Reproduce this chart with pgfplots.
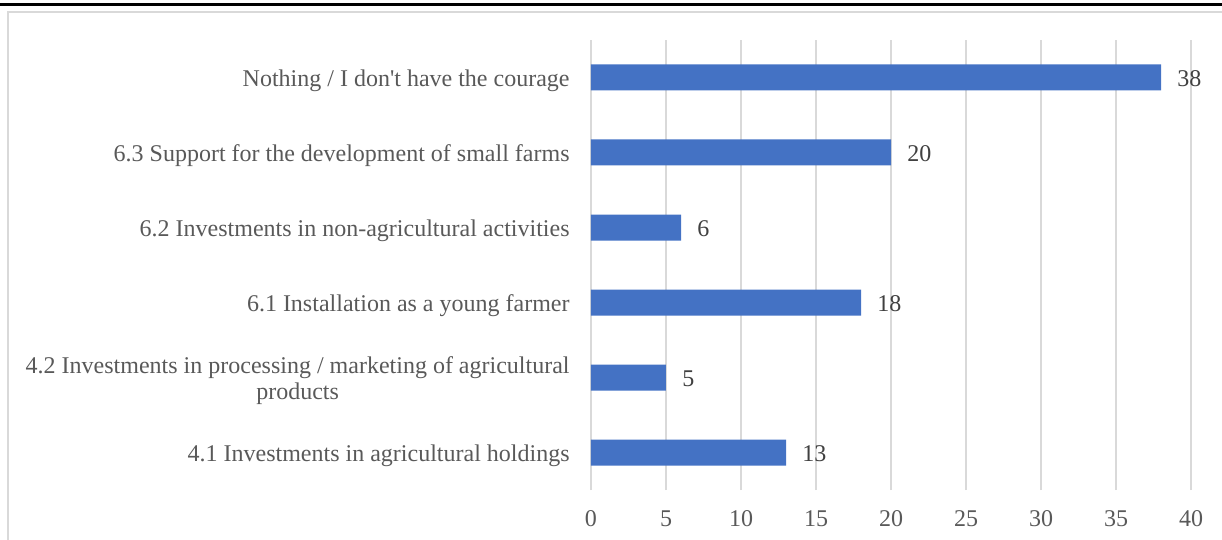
\documentclass[border=0pt]{standalone}
\usepackage{pgfplots}
\pgfplotsset{compat=1.18}
\usepackage{fontspec}
\setmainfont{Liberation Serif}
\definecolor{barblue}{HTML}{4472C4}
\definecolor{gridgray}{HTML}{D9D9D9}
\definecolor{labelgray}{HTML}{595959}
\definecolor{valgray}{HTML}{404040}
\begin{document}
\begin{tikzpicture}
\path[use as bounding box] (0,0) rectangle (611pt,-270pt);
\draw[black, line width=1.5pt] (0,-2.5pt) -- (611pt,-2.5pt);
\draw[gridgray, line width=0.7pt] (4pt,-271pt) -- (4pt,-6pt) -- (612pt,-6pt);
\begin{axis}[
  at={(295.5pt,-245pt)}, anchor=south west,
  xbar, width=300pt, height=225pt, scale only axis,
  xmin=0, xmax=40, ymin=-0.5, ymax=5.5,
  xtick={0,5,...,40}, ytick={0,1,2,3,4,5},
  yticklabels={{4.1 Investments in agricultural holdings},{4.2 Investments in processing / marketing of agricultural\\products},{6.1 Installation as a young farmer},{6.2 Investments in non-agricultural activities},{6.3 Support for the development of small farms},{Nothing / I don\textquotesingle t have the courage}},
  axis line style={draw=none},
  major tick length=0pt,
  xmajorgrids,
  grid style={color=gridgray, line width=0.75pt},
  bar width=13pt,
  xticklabel style={inner sep=0pt, yshift=-10pt, text=labelgray, font=\fontsize{12pt}{13.5pt}\selectfont},
  yticklabel style={inner sep=0pt, xshift=-10.5pt, yshift=-1.5pt, align=center, text=labelgray, font=\fontsize{12pt}{12.8pt}\selectfont},
  /pgf/number format/assume math mode=true,
  nodes near coords,
  nodes near coords style={anchor=west, inner sep=0pt, xshift=8pt, yshift=-0.5pt, text=valgray, font=\fontsize{12pt}{13.5pt}\selectfont},
]
\addplot[fill=barblue, draw=none] coordinates {(13,0) (5,1) (18,2) (6,3) (20,4) (38,5)};
\end{axis}
\end{tikzpicture}
\end{document}
